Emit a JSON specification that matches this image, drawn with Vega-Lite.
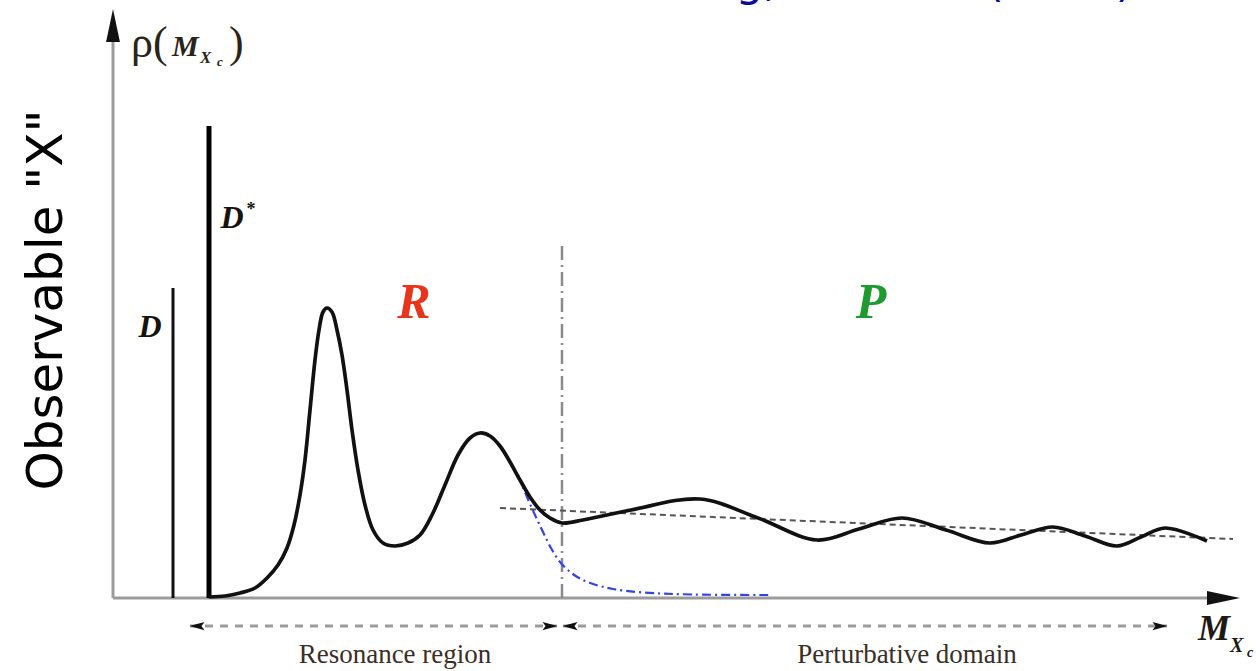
{
  "$schema": "https://vega.github.io/schema/vega-lite/v6.json",
  "width": 1127,
  "height": 586,
  "autosize": {"type": "none"},
  "padding": {"left": 113, "top": 12, "right": 20, "bottom": 73},
  "background": "white",
  "config": {"view": {"stroke": null}},
  "datasets": {
    "curve": [
      {"x": 0.96, "y": 0.01}, {"x": 1.12, "y": 0.02}, {"x": 1.27, "y": 0.05}, {"x": 1.42, "y": 0.10},
      {"x": 1.54, "y": 0.20}, {"x": 1.65, "y": 0.33}, {"x": 1.74, "y": 0.50}, {"x": 1.81, "y": 0.73},
      {"x": 1.87, "y": 1.03}, {"x": 1.92, "y": 1.38}, {"x": 1.97, "y": 1.88}, {"x": 2.02, "y": 2.38},
      {"x": 2.06, "y": 2.68}, {"x": 2.10, "y": 2.86}, {"x": 2.14, "y": 2.90}, {"x": 2.19, "y": 2.86},
      {"x": 2.24, "y": 2.68}, {"x": 2.29, "y": 2.43}, {"x": 2.34, "y": 2.08}, {"x": 2.39, "y": 1.68},
      {"x": 2.45, "y": 1.28}, {"x": 2.52, "y": 0.93}, {"x": 2.60, "y": 0.68}, {"x": 2.70, "y": 0.55},
      {"x": 2.82, "y": 0.52}, {"x": 2.95, "y": 0.55}, {"x": 3.07, "y": 0.63}, {"x": 3.19, "y": 0.83},
      {"x": 3.32, "y": 1.13}, {"x": 3.45, "y": 1.43}, {"x": 3.57, "y": 1.60}, {"x": 3.67, "y": 1.65},
      {"x": 3.77, "y": 1.62}, {"x": 3.87, "y": 1.52}, {"x": 3.97, "y": 1.36}, {"x": 4.07, "y": 1.18},
      {"x": 4.17, "y": 1.01}, {"x": 4.27, "y": 0.88}, {"x": 4.37, "y": 0.80}, {"x": 4.49, "y": 0.75},
      {"x": 4.70, "y": 0.78}, {"x": 5.18, "y": 0.88}, {"x": 5.87, "y": 0.99}, {"x": 6.45, "y": 0.80},
      {"x": 7.04, "y": 0.58}, {"x": 7.46, "y": 0.69}, {"x": 7.89, "y": 0.80}, {"x": 8.33, "y": 0.68},
      {"x": 8.77, "y": 0.55}, {"x": 9.08, "y": 0.63}, {"x": 9.40, "y": 0.71}, {"x": 9.72, "y": 0.62},
      {"x": 10.04, "y": 0.52}, {"x": 10.28, "y": 0.61}, {"x": 10.52, "y": 0.70}, {"x": 10.94, "y": 0.57}
    ],
    "tail": [
      {"x": 4.05, "y": 1.23}, {"x": 4.14, "y": 1.01}, {"x": 4.22, "y": 0.83}, {"x": 4.30, "y": 0.66},
      {"x": 4.38, "y": 0.50}, {"x": 4.47, "y": 0.36}, {"x": 4.56, "y": 0.27}, {"x": 4.66, "y": 0.20},
      {"x": 4.80, "y": 0.14}, {"x": 5.00, "y": 0.09}, {"x": 5.30, "y": 0.055}, {"x": 5.80, "y": 0.035},
      {"x": 6.57, "y": 0.03}
    ],
    "trend": [
      {"x": 3.87, "y": 0.90}, {"x": 11.20, "y": 0.59}
    ],
    "axes": [
      {"x": 0, "y": 0, "x2": 0, "y2": 5.6},
      {"x": 0, "y": 0, "x2": 11.0, "y2": 0}
    ],
    "states": [
      {"name": "D", "x": 0.60, "y": 0, "y2": 3.10},
      {"name": "D*", "x": 0.96, "y": 0, "y2": 4.72}
    ],
    "divider": [
      {"x": 4.49, "y": 0, "y2": 3.55}
    ],
    "spans": [
      {"x": 0.77, "x2": 4.44, "y": -0.28},
      {"x": 4.50, "x2": 10.54, "y": -0.28}
    ],
    "heads": [
      {"dir": "up", "x": 0, "y": 5.725},
      {"dir": "axisright", "x": 11.105, "y": 0},
      {"dir": "left", "x": 0.84, "y": -0.28},
      {"dir": "left", "x": 4.57, "y": -0.28},
      {"dir": "right", "x": 4.37, "y": -0.28},
      {"dir": "right", "x": 10.47, "y": -0.28}
    ],
    "labels": [
      {"g": "rho", "t": "ρ(", "x": 0.18, "y": 5.41},
      {"g": "rho", "t": ")", "x": 1.16, "y": 5.41},
      {"g": "rhoM", "t": "M", "x": 0.59, "y": 5.42},
      {"g": "rhoX", "t": "X", "x": 0.87, "y": 5.35},
      {"g": "rhoC", "t": "c", "x": 1.04, "y": 5.32},
      {"g": "massM", "t": "M", "x": 10.85, "y": -0.42},
      {"g": "massX", "t": "X", "x": 11.17, "y": -0.54},
      {"g": "massC", "t": "c", "x": 11.34, "y": -0.59},
      {"g": "state", "t": "D", "x": 0.37, "y": 2.61},
      {"g": "state", "t": "D", "x": 1.19, "y": 3.70},
      {"g": "star", "t": "*", "x": 1.38, "y": 3.83},
      {"g": "R", "t": "R", "x": 3.01, "y": 2.80},
      {"g": "P", "t": "P", "x": 7.58, "y": 2.80},
      {"g": "region", "t": "Resonance region", "x": 2.82, "y": -0.65},
      {"g": "region", "t": "Perturbative domain", "x": 7.94, "y": -0.65},
      {"g": "ylabel", "t": "Observable \"X\"", "x": -0.66, "y": 2.98},
      {"g": "ref", "t": "Weinberg, Shifman (2000)", "x": 4.42, "y": 6.02}
    ]
  },
  "encoding": {
    "x": {"field": "x", "type": "quantitative", "scale": {"domain": [0, 11.27], "nice": false, "zero": false}, "axis": null},
    "y": {"field": "y", "type": "quantitative", "scale": {"domain": [0, 5.86], "nice": false, "zero": false}, "axis": null}
  },
  "layer": [
    {
      "data": {"name": "axes"},
      "mark": {"type": "rule", "color": "#9b9b9b", "strokeWidth": 3},
      "encoding": {"x2": {"field": "x2"}, "y2": {"field": "y2"}}
    },
    {
      "data": {"name": "divider"},
      "mark": {"type": "rule", "color": "#8a8a8a", "strokeWidth": 2.5, "strokeDash": [14, 5, 2, 5]},
      "encoding": {"y2": {"field": "y2"}}
    },
    {
      "data": {"name": "states"},
      "transform": [{"filter": "datum.name === 'D'"}],
      "mark": {"type": "rule", "color": "#111111", "strokeWidth": 3},
      "encoding": {"y2": {"field": "y2"}}
    },
    {
      "data": {"name": "states"},
      "transform": [{"filter": "datum.name === 'D*'"}],
      "mark": {"type": "rule", "color": "#000000", "strokeWidth": 5},
      "encoding": {"y2": {"field": "y2"}}
    },
    {
      "data": {"name": "trend"},
      "mark": {"type": "line", "color": "#555555", "strokeWidth": 2, "strokeDash": [6, 4]},
      "encoding": {}
    },
    {
      "data": {"name": "tail"},
      "mark": {"type": "line", "color": "#3344e6", "strokeWidth": 2.2, "strokeDash": [9, 4, 2, 4], "interpolate": "catmull-rom"},
      "encoding": {}
    },
    {
      "data": {"name": "curve"},
      "mark": {"type": "line", "color": "#111111", "strokeWidth": 3.7, "interpolate": "catmull-rom"},
      "encoding": {}
    },
    {
      "data": {"name": "spans"},
      "mark": {"type": "rule", "color": "#9b9b9b", "strokeWidth": 3, "strokeDash": [8, 7]},
      "encoding": {"x2": {"field": "x2"}}
    },
    {
      "data": {"name": "heads"},
      "transform": [{"filter": "datum.dir === 'up'"}],
      "mark": {"type": "point", "shape": "M0,-1L-0.42,1L0.42,1Z", "filled": true, "color": "#111111", "opacity": 1, "size": 1089, "strokeWidth": 0}
    },
    {
      "data": {"name": "heads"},
      "transform": [{"filter": "datum.dir === 'axisright'"}],
      "mark": {"type": "point", "shape": "M1,0L-1,-0.42L-1,0.42Z", "filled": true, "color": "#111111", "opacity": 1, "size": 1089, "strokeWidth": 0}
    },
    {
      "data": {"name": "heads"},
      "transform": [{"filter": "datum.dir === 'left'"}],
      "mark": {"type": "point", "shape": "M-1,0L1,-0.55L0.6,0L1,0.55Z", "filled": true, "color": "#111111", "opacity": 1, "size": 225, "strokeWidth": 0}
    },
    {
      "data": {"name": "heads"},
      "transform": [{"filter": "datum.dir === 'right'"}],
      "mark": {"type": "point", "shape": "M1,0L-1,-0.55L-0.6,0L-1,0.55Z", "filled": true, "color": "#111111", "opacity": 1, "size": 225, "strokeWidth": 0}
    },
    {
      "data": {"name": "labels"},
      "transform": [{"filter": "datum.g === 'rho'"}],
      "mark": {"type": "text", "font": "Liberation Serif", "fontSize": 44, "align": "left", "baseline": "alphabetic", "color": "#2a2418"},
      "encoding": {"text": {"field": "t"}}
    },
    {
      "data": {"name": "labels"},
      "transform": [{"filter": "datum.g === 'rhoM'"}],
      "mark": {"type": "text", "font": "Liberation Serif", "fontSize": 30, "fontWeight": "bold", "fontStyle": "italic", "align": "left", "baseline": "alphabetic", "color": "#2a2418"},
      "encoding": {"text": {"field": "t"}}
    },
    {
      "data": {"name": "labels"},
      "transform": [{"filter": "datum.g === 'rhoX'"}],
      "mark": {"type": "text", "font": "Liberation Serif", "fontSize": 17, "fontWeight": "bold", "fontStyle": "italic", "align": "left", "baseline": "alphabetic", "color": "#2a2418"},
      "encoding": {"text": {"field": "t"}}
    },
    {
      "data": {"name": "labels"},
      "transform": [{"filter": "datum.g === 'rhoC'"}],
      "mark": {"type": "text", "font": "Liberation Serif", "fontSize": 13, "fontWeight": "bold", "fontStyle": "italic", "align": "left", "baseline": "alphabetic", "color": "#2a2418"},
      "encoding": {"text": {"field": "t"}}
    },
    {
      "data": {"name": "labels"},
      "transform": [{"filter": "datum.g === 'massM'"}],
      "mark": {"type": "text", "font": "Liberation Serif", "fontSize": 36, "fontWeight": "bold", "fontStyle": "italic", "align": "left", "baseline": "alphabetic", "color": "#1e1a12"},
      "encoding": {"text": {"field": "t"}}
    },
    {
      "data": {"name": "labels"},
      "transform": [{"filter": "datum.g === 'massX'"}],
      "mark": {"type": "text", "font": "Liberation Serif", "fontSize": 20, "fontWeight": "bold", "fontStyle": "italic", "align": "left", "baseline": "alphabetic", "color": "#1e1a12"},
      "encoding": {"text": {"field": "t"}}
    },
    {
      "data": {"name": "labels"},
      "transform": [{"filter": "datum.g === 'massC'"}],
      "mark": {"type": "text", "font": "Liberation Serif", "fontSize": 14, "fontWeight": "bold", "fontStyle": "italic", "align": "left", "baseline": "alphabetic", "color": "#1e1a12"},
      "encoding": {"text": {"field": "t"}}
    },
    {
      "data": {"name": "labels"},
      "transform": [{"filter": "datum.g === 'state'"}],
      "mark": {"type": "text", "font": "Liberation Serif", "fontSize": 32, "fontWeight": "bold", "fontStyle": "italic", "align": "center", "baseline": "alphabetic", "color": "#16120c"},
      "encoding": {"text": {"field": "t"}}
    },
    {
      "data": {"name": "labels"},
      "transform": [{"filter": "datum.g === 'star'"}],
      "mark": {"type": "text", "font": "Liberation Serif", "fontSize": 18, "fontWeight": "bold", "align": "center", "baseline": "alphabetic", "color": "#16120c"},
      "encoding": {"text": {"field": "t"}}
    },
    {
      "data": {"name": "labels"},
      "transform": [{"filter": "datum.g === 'R'"}],
      "mark": {"type": "text", "font": "Liberation Serif", "fontSize": 50, "fontWeight": "bold", "fontStyle": "italic", "align": "center", "baseline": "alphabetic", "color": "#e8341c"},
      "encoding": {"text": {"field": "t"}}
    },
    {
      "data": {"name": "labels"},
      "transform": [{"filter": "datum.g === 'P'"}],
      "mark": {"type": "text", "font": "Liberation Serif", "fontSize": 50, "fontWeight": "bold", "fontStyle": "italic", "align": "center", "baseline": "alphabetic", "color": "#1f9a2e"},
      "encoding": {"text": {"field": "t"}}
    },
    {
      "data": {"name": "labels"},
      "transform": [{"filter": "datum.g === 'region'"}],
      "mark": {"type": "text", "font": "Liberation Serif", "fontSize": 27, "align": "center", "baseline": "alphabetic", "color": "#3a2e25"},
      "encoding": {"text": {"field": "t"}}
    },
    {
      "data": {"name": "labels"},
      "transform": [{"filter": "datum.g === 'ylabel'"}],
      "mark": {"type": "text", "font": "DejaVu Sans", "fontSize": 50, "angle": 270, "align": "center", "baseline": "middle", "color": "#000000"},
      "encoding": {"text": {"field": "t"}}
    },
    {
      "data": {"name": "labels"},
      "transform": [{"filter": "datum.g === 'ref'"}],
      "mark": {"type": "text", "font": "DejaVu Sans", "fontSize": 44, "align": "left", "baseline": "alphabetic", "color": "#0a0a9e"},
      "encoding": {"text": {"field": "t"}}
    }
  ]
}
